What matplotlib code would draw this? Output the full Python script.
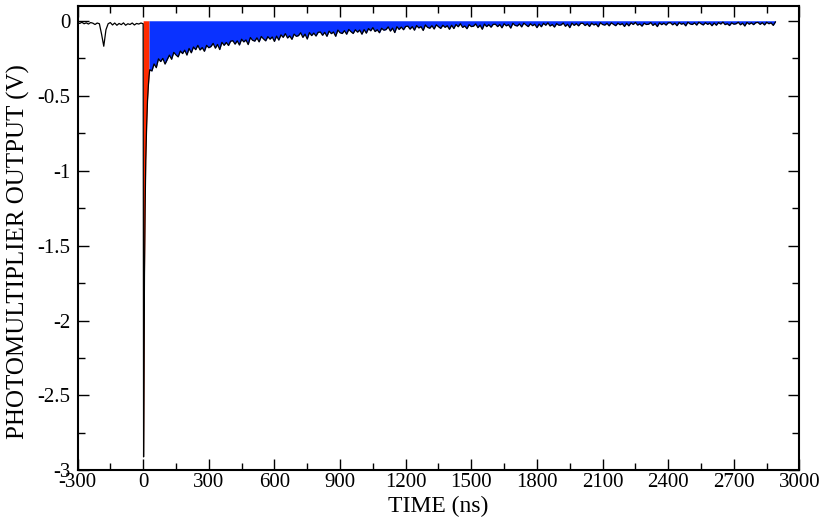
import numpy as np
import matplotlib
matplotlib.use("Agg")
import matplotlib.pyplot as plt
from matplotlib.ticker import MultipleLocator, FuncFormatter

# ---------------- data (mV) ----------------
# pre-trigger baseline, t = -300 .. -10 ns, 10 ns sampling
pre_t = np.arange(-300, 0, 10)
pre_mv = [-12, -18, -10, -20, -14, -22, -12, -16, -25, -15,
          -20, -90, -170, -60, -20, -12, -28, -15, -30, -18,
          -26, -14, -30, -20, -25, -15, -28, -18, -22, -15]

# fast pulse (red region)
spike_t = [0, 2, 4, 6, 9, 12, 16, 20, 24, 27]
spike_mv = [-20, -2910, -2300, -1700, -1250, -930, -700, -530, -430, -370]

# slow tail (blue region), t = 30 .. 2890 ns, 10 ns sampling
tail_t = np.arange(30, 2900, 10)
tail_mv = [
    -327, -335, -288, -313, -254, -272, -251, -289,
    -259, -229, -257, -211, -228, -241, -202, -219, -196, -229,
    -185, -214, -175, -193, -164, -195, -179, -204, -164, -180,
    -172, -151, -183, -158, -192, -144, -164, -145, -165, -136,
    -133, -156, -134, -162, -123, -141, -128, -159, -112, -130,
    -136, -114, -141, -105, -121, -134, -106, -123, -108, -138,
    -102, -129, -94, -111, -86, -115, -101, -124, -89, -104,
    -99, -80, -111, -89, -122, -79, -99, -82, -102, -77,
    -75, -97, -77, -104, -69, -86, -75, -104, -62, -80,
    -85, -66, -90, -58, -73, -85, -60, -76, -62, -90,
    -59, -83, -52, -67, -46, -72, -60, -80, -50, -63,
    -59, -41, -69, -49, -79, -40, -58, -42, -60, -38,
    -36, -56, -39, -63, -32, -48, -39, -65, -28, -44,
    -50, -33, -55, -27, -40, -51, -30, -44, -33, -57,
    -30, -52, -25, -40, -20, -44, -35, -53, -26, -39,
    -36, -21, -46, -29, -57, -22, -39, -26, -43, -24,
    -23, -39, -25, -47, -20, -34, -26, -49, -17, -31,
    -35, -21, -41, -16, -28, -39, -20, -33, -23, -46,
    -22, -40, -17, -30, -14, -35, -25, -42, -19, -30,
    -28, -15, -37, -23, -46, -16, -31, -19, -34, -17,
    -17, -32, -20, -38, -16, -28, -21, -40, -13, -25,
    -29, -17, -34, -14, -24, -33, -16, -27, -19, -38,
    -17, -34, -14, -25, -11, -29, -21, -36, -16, -25,
    -23, -12, -31, -19, -39, -14, -26, -16, -29, -14,
    -13, -27, -16, -33, -12, -23, -17, -34, -10, -21,
    -25, -14, -29, -10, -20, -28, -13, -24, -16, -33,
    -15, -30, -12, -22, -9, -26, -19, -32, -14, -23,
    -20, -10, -27, -16, -35, -11, -23, -14, -26, -13,
    -11, -24, -13, -28, -10, -20, -14, -31, -8,
]

x_ticks = [-300, 0, 300, 600, 900, 1200, 1500, 1800, 2100, 2400, 2700, 3000]
y_ticks = [0, -0.5, -1, -1.5, -2, -2.5, -3]

# ---------------- build arrays ----------------
pre_v = np.array(pre_mv) / 1000.0
spike_v = np.array(spike_mv) / 1000.0
tail_v = np.array(tail_mv) / 1000.0
spike_t = np.array(spike_t, dtype=float)

t_all = np.concatenate([pre_t, spike_t, tail_t])
v_all = np.concatenate([pre_v, spike_v, tail_v])

# blue region starts at end of the fast pulse
blue_t = np.concatenate([spike_t[-1:], tail_t])
blue_v = np.concatenate([spike_v[-1:], tail_v])

plt.rcParams['font.family'] = ['Liberation Serif', 'DejaVu Serif']
plt.rcParams['axes.unicode_minus'] = False

fig = plt.figure(figsize=(8.22, 5.25), dpi=100)
ax = fig.add_axes([0.0943, 0.104, 0.9726 - 0.0943, 0.989 - 0.104])

ax.fill_between(spike_t, spike_v, 0, color='#ff2a00', linewidth=0, zorder=1)
ax.fill_between(blue_t, blue_v, 0, color='#0a32ff', linewidth=0, zorder=1)
ax.plot(t_all, v_all, color='black', linewidth=0.9, zorder=3)

ax.set_xlim(-300, 3000)
ax.set_ylim(-3, 0.1)
ax.set_xticks(x_ticks)
ax.set_yticks(y_ticks)
ax.xaxis.set_minor_locator(MultipleLocator(150))
ax.yaxis.set_minor_locator(MultipleLocator(0.25))
ax.yaxis.set_major_formatter(FuncFormatter(lambda v, p: ('%g' % v) if abs(v) > 1e-9 else '0'))

ax.tick_params(which='both', direction='in', top=True, right=True, width=1.0)
ax.tick_params(which='major', length=8, labelsize=15)
ax.tick_params(which='minor', length=5)
ax.tick_params(axis='x', pad=2)
ax.tick_params(axis='y', pad=5)
for s in ax.spines.values():
    s.set_linewidth(1.5)

ax.set_xlabel('TIME (ns)', fontsize=17, labelpad=3)
ax.set_ylabel('PHOTOMULTIPLIER OUTPUT (V)', fontsize=18)
ax.yaxis.set_label_coords(-0.066, 0.47)

fig.savefig('out.png', dpi=100)
